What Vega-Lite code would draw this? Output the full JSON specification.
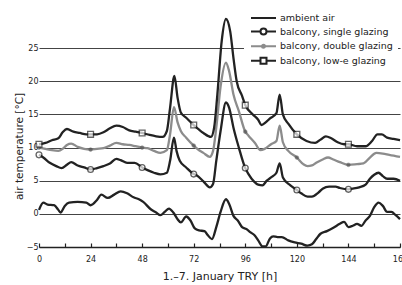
{
  "$schema": "https://vega.github.io/schema/vega-lite/v6.json",
  "width": 361,
  "height": 232,
  "autosize": "none",
  "padding": {"left": 39, "top": 15, "right": 2, "bottom": 38},
  "background": "white",
  "config": {
    "font": "DejaVu Sans",
    "view": {"stroke": null}
  },
  "datasets": {
    "temps": [
      {"s":"ambient air","h":0,"t":0.6},{"s":"ambient air","h":2,"t":1.7},{"s":"ambient air","h":4,"t":1.4},{"s":"ambient air","h":7,"t":1.3},{"s":"ambient air","h":9,"t":0.6},{"s":"ambient air","h":10,"t":0.2},{"s":"ambient air","h":12,"t":1.2},{"s":"ambient air","h":14,"t":1.7},{"s":"ambient air","h":18,"t":1.8},{"s":"ambient air","h":22,"t":1.7},{"s":"ambient air","h":24,"t":1.3},{"s":"ambient air","h":27,"t":2.1},{"s":"ambient air","h":29,"t":2.9},{"s":"ambient air","h":32,"t":2.4},{"s":"ambient air","h":35,"t":2.9},{"s":"ambient air","h":38,"t":3.4},{"s":"ambient air","h":41,"t":3.1},{"s":"ambient air","h":44,"t":2.5},{"s":"ambient air","h":46.5,"t":2.2},{"s":"ambient air","h":48.5,"t":1.8},{"s":"ambient air","h":52,"t":0.7},{"s":"ambient air","h":54.5,"t":0.2},{"s":"ambient air","h":56.5,"t":-0.2},{"s":"ambient air","h":58.5,"t":0.3},{"s":"ambient air","h":60.5,"t":0.8},{"s":"ambient air","h":62.5,"t":0.2},{"s":"ambient air","h":64.5,"t":-0.8},{"s":"ambient air","h":66,"t":-1.3},{"s":"ambient air","h":68.5,"t":-0.4},{"s":"ambient air","h":70.5,"t":-1.0},{"s":"ambient air","h":72.5,"t":-2.2},{"s":"ambient air","h":74.5,"t":-2.5},{"s":"ambient air","h":77,"t":-2.6},{"s":"ambient air","h":78.5,"t":-3.2},{"s":"ambient air","h":80.5,"t":-3.8},{"s":"ambient air","h":82.5,"t":-2.0},{"s":"ambient air","h":84.5,"t":0.3},{"s":"ambient air","h":87,"t":2.2},{"s":"ambient air","h":88.5,"t":1.5},{"s":"ambient air","h":90.5,"t":-0.3},{"s":"ambient air","h":92.5,"t":-1.0},{"s":"ambient air","h":94.5,"t":-2.0},{"s":"ambient air","h":96.5,"t":-2.3},{"s":"ambient air","h":98.5,"t":-2.8},{"s":"ambient air","h":100.5,"t":-3.3},{"s":"ambient air","h":102,"t":-4.0},{"s":"ambient air","h":104,"t":-4.9},{"s":"ambient air","h":105.5,"t":-4.9},{"s":"ambient air","h":107.5,"t":-3.7},{"s":"ambient air","h":109,"t":-3.4},{"s":"ambient air","h":111,"t":-3.5},{"s":"ambient air","h":113,"t":-3.5},{"s":"ambient air","h":116,"t":-4.0},{"s":"ambient air","h":119,"t":-4.3},{"s":"ambient air","h":122,"t":-4.5},{"s":"ambient air","h":125,"t":-4.8},{"s":"ambient air","h":127,"t":-4.6},{"s":"ambient air","h":129,"t":-3.8},{"s":"ambient air","h":131,"t":-3.0},{"s":"ambient air","h":134,"t":-2.6},{"s":"ambient air","h":137,"t":-2.1},{"s":"ambient air","h":140,"t":-1.5},{"s":"ambient air","h":142,"t":-1.2},{"s":"ambient air","h":144,"t":-2.0},{"s":"ambient air","h":146,"t":-1.8},{"s":"ambient air","h":148,"t":-1.5},{"s":"ambient air","h":150,"t":-1.8},{"s":"ambient air","h":152,"t":-1.0},{"s":"ambient air","h":154,"t":-0.3},{"s":"ambient air","h":156,"t":1.0},{"s":"ambient air","h":158,"t":1.7},{"s":"ambient air","h":160,"t":1.2},{"s":"ambient air","h":162,"t":0.3},{"s":"ambient air","h":164,"t":0.3},{"s":"ambient air","h":166,"t":-0.2},{"s":"ambient air","h":168,"t":-0.8},

      {"s":"balcony, single glazing","h":0,"t":8.9},{"s":"balcony, single glazing","h":2,"t":8.5},{"s":"balcony, single glazing","h":5,"t":7.7},{"s":"balcony, single glazing","h":8,"t":7.2},{"s":"balcony, single glazing","h":10.5,"t":6.9},{"s":"balcony, single glazing","h":13,"t":7.4},{"s":"balcony, single glazing","h":15,"t":7.8},{"s":"balcony, single glazing","h":18,"t":7.3},{"s":"balcony, single glazing","h":21,"t":7.0},{"s":"balcony, single glazing","h":24,"t":6.7},{"s":"balcony, single glazing","h":27,"t":6.9},{"s":"balcony, single glazing","h":30,"t":7.2},{"s":"balcony, single glazing","h":33,"t":7.6},{"s":"balcony, single glazing","h":36,"t":8.3},{"s":"balcony, single glazing","h":38,"t":8.1},{"s":"balcony, single glazing","h":41,"t":7.7},{"s":"balcony, single glazing","h":44.5,"t":7.7},{"s":"balcony, single glazing","h":48,"t":7.0},{"s":"balcony, single glazing","h":50.5,"t":6.6},{"s":"balcony, single glazing","h":53.5,"t":6.2},{"s":"balcony, single glazing","h":56.5,"t":5.95},{"s":"balcony, single glazing","h":59.5,"t":6.2},{"s":"balcony, single glazing","h":61,"t":8.0},{"s":"balcony, single glazing","h":62.8,"t":11.5},{"s":"balcony, single glazing","h":64,"t":9.5},{"s":"balcony, single glazing","h":65.5,"t":8.0},{"s":"balcony, single glazing","h":68.5,"t":7.0},{"s":"balcony, single glazing","h":72,"t":6.0},{"s":"balcony, single glazing","h":73.5,"t":5.8},{"s":"balcony, single glazing","h":76.5,"t":4.9},{"s":"balcony, single glazing","h":79.5,"t":4.0},{"s":"balcony, single glazing","h":81,"t":4.5},{"s":"balcony, single glazing","h":82.5,"t":8.0},{"s":"balcony, single glazing","h":84.5,"t":12.5},{"s":"balcony, single glazing","h":87,"t":16.8},{"s":"balcony, single glazing","h":88.5,"t":16.0},{"s":"balcony, single glazing","h":90.5,"t":13.0},{"s":"balcony, single glazing","h":93,"t":10.0},{"s":"balcony, single glazing","h":96,"t":6.9},{"s":"balcony, single glazing","h":97.5,"t":6.0},{"s":"balcony, single glazing","h":100,"t":4.9},{"s":"balcony, single glazing","h":102,"t":4.4},{"s":"balcony, single glazing","h":104,"t":4.3},{"s":"balcony, single glazing","h":106,"t":5.0},{"s":"balcony, single glazing","h":108,"t":5.5},{"s":"balcony, single glazing","h":110.5,"t":6.2},{"s":"balcony, single glazing","h":112,"t":7.6},{"s":"balcony, single glazing","h":113.5,"t":5.5},{"s":"balcony, single glazing","h":117,"t":4.3},{"s":"balcony, single glazing","h":120,"t":3.6},{"s":"balcony, single glazing","h":122,"t":3.1},{"s":"balcony, single glazing","h":125,"t":2.6},{"s":"balcony, single glazing","h":127,"t":2.6},{"s":"balcony, single glazing","h":130,"t":3.2},{"s":"balcony, single glazing","h":132,"t":3.8},{"s":"balcony, single glazing","h":135,"t":4.1},{"s":"balcony, single glazing","h":138,"t":4.1},{"s":"balcony, single glazing","h":140,"t":3.9},{"s":"balcony, single glazing","h":144,"t":3.7},{"s":"balcony, single glazing","h":146,"t":3.8},{"s":"balcony, single glazing","h":149,"t":4.0},{"s":"balcony, single glazing","h":152,"t":4.4},{"s":"balcony, single glazing","h":154,"t":5.3},{"s":"balcony, single glazing","h":156,"t":5.9},{"s":"balcony, single glazing","h":158,"t":6.2},{"s":"balcony, single glazing","h":160,"t":5.7},{"s":"balcony, single glazing","h":162,"t":5.3},{"s":"balcony, single glazing","h":165,"t":5.3},{"s":"balcony, single glazing","h":168,"t":5.0},

      {"s":"balcony, double glazing","h":0,"t":10.0},{"s":"balcony, double glazing","h":3,"t":9.8},{"s":"balcony, double glazing","h":6,"t":9.6},{"s":"balcony, double glazing","h":9,"t":9.5},{"s":"balcony, double glazing","h":11,"t":9.8},{"s":"balcony, double glazing","h":13,"t":10.4},{"s":"balcony, double glazing","h":15,"t":10.6},{"s":"balcony, double glazing","h":18,"t":10.1},{"s":"balcony, double glazing","h":21,"t":9.8},{"s":"balcony, double glazing","h":24,"t":9.7},{"s":"balcony, double glazing","h":27,"t":9.8},{"s":"balcony, double glazing","h":30,"t":9.9},{"s":"balcony, double glazing","h":33,"t":10.3},{"s":"balcony, double glazing","h":36,"t":10.7},{"s":"balcony, double glazing","h":39,"t":10.5},{"s":"balcony, double glazing","h":42,"t":10.4},{"s":"balcony, double glazing","h":45,"t":10.2},{"s":"balcony, double glazing","h":48,"t":10.0},{"s":"balcony, double glazing","h":50.5,"t":9.9},{"s":"balcony, double glazing","h":53.5,"t":9.5},{"s":"balcony, double glazing","h":56.5,"t":9.2},{"s":"balcony, double glazing","h":59.5,"t":9.6},{"s":"balcony, double glazing","h":61,"t":12.0},{"s":"balcony, double glazing","h":62.8,"t":16.1},{"s":"balcony, double glazing","h":64.5,"t":13.8},{"s":"balcony, double glazing","h":66,"t":12.5},{"s":"balcony, double glazing","h":68.5,"t":11.5},{"s":"balcony, double glazing","h":72,"t":10.3},{"s":"balcony, double glazing","h":74.5,"t":9.6},{"s":"balcony, double glazing","h":76.5,"t":9.2},{"s":"balcony, double glazing","h":79.5,"t":8.6},{"s":"balcony, double glazing","h":81,"t":9.5},{"s":"balcony, double glazing","h":82.5,"t":13.0},{"s":"balcony, double glazing","h":84.5,"t":19.2},{"s":"balcony, double glazing","h":87,"t":22.8},{"s":"balcony, double glazing","h":88.5,"t":21.5},{"s":"balcony, double glazing","h":90.5,"t":18.0},{"s":"balcony, double glazing","h":93,"t":15.5},{"s":"balcony, double glazing","h":96,"t":12.4},{"s":"balcony, double glazing","h":97.5,"t":11.8},{"s":"balcony, double glazing","h":100.5,"t":10.7},{"s":"balcony, double glazing","h":103,"t":9.6},{"s":"balcony, double glazing","h":105,"t":9.8},{"s":"balcony, double glazing","h":108,"t":10.5},{"s":"balcony, double glazing","h":110.5,"t":11.0},{"s":"balcony, double glazing","h":112,"t":13.3},{"s":"balcony, double glazing","h":113.5,"t":10.8},{"s":"balcony, double glazing","h":116,"t":9.5},{"s":"balcony, double glazing","h":120,"t":8.5},{"s":"balcony, double glazing","h":123,"t":7.5},{"s":"balcony, double glazing","h":125,"t":7.2},{"s":"balcony, double glazing","h":127,"t":7.3},{"s":"balcony, double glazing","h":129,"t":7.7},{"s":"balcony, double glazing","h":132,"t":8.2},{"s":"balcony, double glazing","h":134.5,"t":8.5},{"s":"balcony, double glazing","h":137,"t":8.2},{"s":"balcony, double glazing","h":140,"t":7.8},{"s":"balcony, double glazing","h":144,"t":7.4},{"s":"balcony, double glazing","h":148,"t":7.5},{"s":"balcony, double glazing","h":151,"t":7.6},{"s":"balcony, double glazing","h":154,"t":8.5},{"s":"balcony, double glazing","h":157,"t":9.2},{"s":"balcony, double glazing","h":160,"t":9.1},{"s":"balcony, double glazing","h":163,"t":8.9},{"s":"balcony, double glazing","h":168,"t":8.6},

      {"s":"balcony, low-e glazing","h":0,"t":10.5},{"s":"balcony, low-e glazing","h":3,"t":10.7},{"s":"balcony, low-e glazing","h":6,"t":11.1},{"s":"balcony, low-e glazing","h":9,"t":11.4},{"s":"balcony, low-e glazing","h":11,"t":12.3},{"s":"balcony, low-e glazing","h":13,"t":12.8},{"s":"balcony, low-e glazing","h":16,"t":12.4},{"s":"balcony, low-e glazing","h":19,"t":12.2},{"s":"balcony, low-e glazing","h":22,"t":12.0},{"s":"balcony, low-e glazing","h":24,"t":12.0},{"s":"balcony, low-e glazing","h":27,"t":12.0},{"s":"balcony, low-e glazing","h":30,"t":12.3},{"s":"balcony, low-e glazing","h":33,"t":12.9},{"s":"balcony, low-e glazing","h":36,"t":13.3},{"s":"balcony, low-e glazing","h":39,"t":13.1},{"s":"balcony, low-e glazing","h":42,"t":12.6},{"s":"balcony, low-e glazing","h":45,"t":12.4},{"s":"balcony, low-e glazing","h":48,"t":12.2},{"s":"balcony, low-e glazing","h":51.5,"t":11.9},{"s":"balcony, low-e glazing","h":54.5,"t":11.7},{"s":"balcony, low-e glazing","h":57.5,"t":11.6},{"s":"balcony, low-e glazing","h":59.5,"t":12.5},{"s":"balcony, low-e glazing","h":61,"t":16.0},{"s":"balcony, low-e glazing","h":63,"t":20.8},{"s":"balcony, low-e glazing","h":64.5,"t":17.5},{"s":"balcony, low-e glazing","h":66,"t":15.3},{"s":"balcony, low-e glazing","h":68.5,"t":14.5},{"s":"balcony, low-e glazing","h":72,"t":13.4},{"s":"balcony, low-e glazing","h":74.5,"t":12.7},{"s":"balcony, low-e glazing","h":76.5,"t":12.2},{"s":"balcony, low-e glazing","h":80,"t":11.6},{"s":"balcony, low-e glazing","h":81.5,"t":13.0},{"s":"balcony, low-e glazing","h":83,"t":18.0},{"s":"balcony, low-e glazing","h":85,"t":26.0},{"s":"balcony, low-e glazing","h":87,"t":29.4},{"s":"balcony, low-e glazing","h":89,"t":27.5},{"s":"balcony, low-e glazing","h":90.5,"t":23.5},{"s":"balcony, low-e glazing","h":92,"t":20.0},{"s":"balcony, low-e glazing","h":94.5,"t":17.8},{"s":"balcony, low-e glazing","h":96,"t":16.4},{"s":"balcony, low-e glazing","h":99.5,"t":15.0},{"s":"balcony, low-e glazing","h":102,"t":14.2},{"s":"balcony, low-e glazing","h":103.5,"t":13.4},{"s":"balcony, low-e glazing","h":105.5,"t":13.8},{"s":"balcony, low-e glazing","h":107.5,"t":14.4},{"s":"balcony, low-e glazing","h":110.5,"t":15.2},{"s":"balcony, low-e glazing","h":112,"t":18.0},{"s":"balcony, low-e glazing","h":113.5,"t":15.0},{"s":"balcony, low-e glazing","h":116,"t":13.6},{"s":"balcony, low-e glazing","h":120,"t":12.0},{"s":"balcony, low-e glazing","h":124.5,"t":11.0},{"s":"balcony, low-e glazing","h":128.5,"t":10.7},{"s":"balcony, low-e glazing","h":131,"t":11.2},{"s":"balcony, low-e glazing","h":133.5,"t":11.7},{"s":"balcony, low-e glazing","h":136,"t":11.4},{"s":"balcony, low-e glazing","h":139,"t":10.8},{"s":"balcony, low-e glazing","h":142,"t":10.5},{"s":"balcony, low-e glazing","h":144,"t":10.5},{"s":"balcony, low-e glazing","h":148,"t":10.2},{"s":"balcony, low-e glazing","h":152,"t":10.2},{"s":"balcony, low-e glazing","h":155,"t":11.0},{"s":"balcony, low-e glazing","h":157.5,"t":12.0},{"s":"balcony, low-e glazing","h":159.5,"t":12.0},{"s":"balcony, low-e glazing","h":162,"t":11.5},{"s":"balcony, low-e glazing","h":165,"t":11.3},{"s":"balcony, low-e glazing","h":168,"t":11.1}
    ]
  },
  "data": {"name": "temps"},
  "encoding": {
    "x": {
      "field": "h", "type": "quantitative",
      "scale": {"domain": [0, 168], "nice": false, "zero": false},
      "axis": {
        "title": "1.–7. January TRY [h]",
        "titleFontSize": 11, "titleFontWeight": "normal", "titleColor": "#222", "titlePadding": 7,
        "values": [0,12,24,36,48,60,72,84,96,108,120,132,144,156,168],
        "labelExpr": "datum.value % 24 == 0 ? datum.label : ''",
        "labelFontSize": 8, "labelColor": "#222", "labelPadding": 12, "labelFlush": false, "labelOverlap": false,
        "tickSize": -4, "tickColor": "#222", "tickWidth": 1.2,
        "domainColor": "#222", "domainWidth": 1.5,
        "grid": false
      }
    },
    "y": {
      "field": "t", "type": "quantitative",
      "scale": {"domain": [-5, 30], "nice": false, "zero": false},
      "axis": {
        "title": "air temperature [°C]",
        "titleFontSize": 10.5, "titleFontWeight": "normal", "titleColor": "#222",
        "titleX": -20, "titleY": 131, "titleAngle": -90, "titleAlign": "center", "titleBaseline": "middle",
        "values": [-5, 0, 5, 10, 15, 20, 25],
        "labelFontSize": 8, "labelColor": "#222", "labelPadding": 1, "labelFlush": false,
        "ticks": false, "domain": false,
        "grid": true, "gridColor": "#444", "gridWidth": 1, "gridOpacity": 1
      }
    }
  },
  "layer": [
    {
      "mark": {"type": "line", "strokeWidth": 2.3, "interpolate": "monotone"},
      "encoding": {
        "stroke": {
          "field": "s", "type": "nominal",
          "scale": {
            "domain": ["ambient air", "balcony, single glazing", "balcony, double glazing", "balcony, low-e glazing"],
            "range": ["#222222", "#222222", "#8c8c8c", "#222222"]
          }
        }
      }
    },
    {
      "transform": [
        {"filter": {"field": "s", "equal": "balcony, single glazing"}},
        {"filter": {"field": "h", "oneOf": [0, 24, 48, 72, 96, 120, 144]}}
      ],
      "mark": {"type": "point", "shape": "circle", "size": 34, "filled": true, "fill": "white", "stroke": "#222", "strokeWidth": 1.3}
    },
    {
      "transform": [
        {"filter": {"field": "s", "equal": "balcony, double glazing"}},
        {"filter": {"field": "h", "oneOf": [0, 24, 48, 72, 96, 120, 144]}}
      ],
      "mark": {"type": "point", "shape": "circle", "size": 14, "filled": true, "fill": "#555", "stroke": "#555", "strokeWidth": 0.5}
    },
    {
      "transform": [
        {"filter": {"field": "s", "equal": "balcony, low-e glazing"}},
        {"filter": {"field": "h", "oneOf": [0, 24, 48, 72, 96, 120, 144]}}
      ],
      "mark": {"type": "point", "shape": "square", "size": 34, "filled": true, "fill": "white", "stroke": "#222", "strokeWidth": 1.3}
    },
    {
      "transform": [{"filter": {"field": "h", "equal": 0}}],
      "mark": {"type": "point", "filled": true, "opacity": 0, "strokeWidth": 2},
      "encoding": {
        "shape": {
          "field": "s", "type": "nominal",
          "scale": {
            "domain": ["ambient air", "balcony, single glazing", "balcony, double glazing", "balcony, low-e glazing"],
            "range": [
              "M-3.8,0H1.2",
              "M-3.8,0H-1.9M-0.7,0H1.2M-0.7,0A0.6,0.6 0 1,1 -1.9,0A0.6,0.6 0 1,1 -0.7,0Z",
              "M-3.8,0H1.2M-1,0A0.3,0.3 0 1,1 -1.6,0A0.3,0.3 0 1,1 -1,0Z",
              "M-3.8,0H-1.9M-0.7,0H1.2M-1.9,-0.6H-0.7V0.6H-1.9Z"
            ]
          },
          "legend": {
            "title": null,
            "orient": "none",
            "legendX": 205,
            "legendY": -8,
            "padding": 5,
            "fillColor": "white",
            "symbolSize": 100,
            "symbolStrokeWidth": 2,
            "symbolOpacity": 1,
            "symbolOffset": 15,
            "labelOffset": 4,
            "labelFontSize": 9.5,
            "labelColor": "#222",
            "rowPadding": 1.6
          }
        },
        "stroke": {
          "field": "s", "type": "nominal"
        },
        "fill": {
          "field": "s", "type": "nominal",
          "scale": {
            "domain": ["ambient air", "balcony, single glazing", "balcony, double glazing", "balcony, low-e glazing"],
            "range": ["transparent", "white", "#555555", "white"]
          }
        }
      }
    }
  ]
}
